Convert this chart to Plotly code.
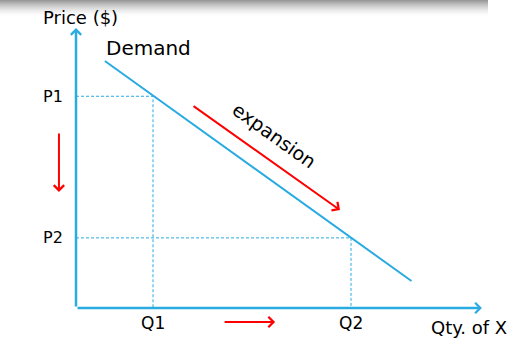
import plotly.graph_objects as go

# ---- data (economic units) ----
demand_q = [1.05, 12.2]
demand_p = [8.98, 0.98]
q_levels = [2.8, 10.0]          # Q1, Q2
p_levels = [7.7, 2.55]          # P1, P2
q_labels = ["Q1", "Q2"]
p_labels = ["P1", "P2"]
axis_q_max = 14.76
axis_p_max = 10.18
expansion_arrow_q = [4.22, 9.6]
expansion_arrow_p = [7.38, 3.56]
price_arrow_q = -0.62
price_arrow_p = [6.4, 4.22]
qty_arrow_p = -0.51
qty_arrow_q = [5.35, 7.24]

BLUE = "#29abe2"
RED = "#ff0000"
FONT = "DejaVu Sans"

fig = go.Figure()

# demand curve
fig.add_trace(go.Scatter(x=demand_q, y=demand_p, mode="lines",
                         line=dict(color=BLUE, width=2), hoverinfo="skip",
                         showlegend=False))
# dashed guide lines
for q, p in zip(q_levels, p_levels):
    fig.add_trace(go.Scatter(x=[0, q, q], y=[p, p, 0], mode="lines",
                             line=dict(color=BLUE, width=1, dash="3px,2px"),
                             hoverinfo="skip", showlegend=False))

ann = []
def arrow(x0, y0, x1, y1, color, width, size):
    ann.append(dict(x=x1, y=y1, ax=x0, ay=y0, xref="x", yref="y",
                    axref="x", ayref="y", text="", showarrow=True,
                    arrowhead=4, arrowsize=size, arrowwidth=width,
                    arrowcolor=color, standoff=0, startstandoff=0))

# axes
arrow(0, 0, axis_q_max, 0, BLUE, 2.5, 0.8)
arrow(0, 0, 0, axis_p_max, BLUE, 2.5, 0.8)
# red arrows
arrow(expansion_arrow_q[0], expansion_arrow_p[0], expansion_arrow_q[1], expansion_arrow_p[1], RED, 2, 1.0)
arrow(price_arrow_q, price_arrow_p[0], price_arrow_q, price_arrow_p[1], RED, 2, 1.0)
arrow(qty_arrow_q[0], qty_arrow_p, qty_arrow_q[1], qty_arrow_p, RED, 2, 1.0)

def label(x, y, text, size, xanchor="center", angle=0):
    ann.append(dict(x=x, y=y, xref="x", yref="y", text=text, showarrow=False,
                    xanchor=xanchor, yanchor="middle", textangle=angle,
                    font=dict(family=FONT, size=size, color="black")))

label(0.15, 10.58, "Price ($)", 18)
label(2.62, 9.45, "Demand", 20)
for p, t in zip(p_levels, p_labels):
    label(-0.4, p, t, 16, xanchor="right")
for q, t in zip(q_levels, q_labels):
    label(q, -0.55, t, 17)
label(14.3, -0.72, "Qty. of X", 18)
label(7.2, 6.3, "expansion", 19, angle=35.6)

# top shadow
shapes = []
for i in range(16):
    a = 0.40 * (1 - i / 16) ** 1.6
    shapes.append(dict(type="rect", xref="paper", yref="paper",
                       x0=0, x1=488 / 521, y0=1 - (i + 1) / 352, y1=1 - i / 352,
                       fillcolor=f"rgba(0,0,0,{a:.3f})", line=dict(width=0),
                       layer="below"))

fig.update_layout(
    width=521, height=352, margin=dict(l=0, r=0, t=0, b=0),
    paper_bgcolor="white", plot_bgcolor="white",
    xaxis=dict(range=[-76 / 27.5, 445 / 27.5], visible=False, fixedrange=True),
    yaxis=dict(range=[-44 / 27.5, 308 / 27.5], visible=False, fixedrange=True),
    annotations=ann, shapes=shapes, showlegend=False,
)

fig.write_html("out.html")
